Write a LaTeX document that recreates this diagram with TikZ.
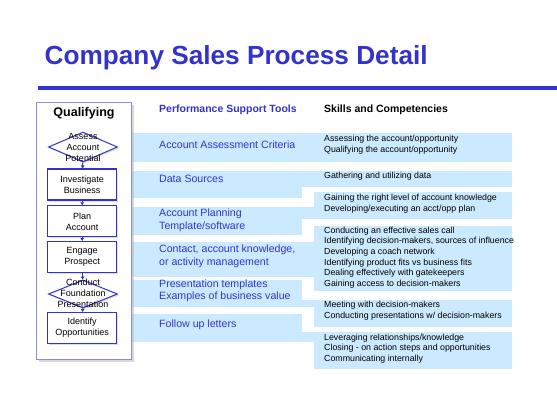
\documentclass[tikz,border=0pt]{standalone}
\usepackage{fontspec}
\setmainfont{Liberation Sans}
\usetikzlibrary{arrows.meta, positioning, shapes.geometric, shadows}
\definecolor{titleblue}{RGB}{51,51,204}
\definecolor{bandblue}{RGB}{204,234,255}
\definecolor{framepurple}{RGB}{140,140,220}

\begin{document}
\begin{tikzpicture}[x=1pt, y=-1pt,
  stepbox/.style={rectangle, draw=titleblue, line width=1.1pt, fill=white, minimum width=69pt, minimum height=31pt, inner sep=0pt, align=center, font=\fontsize{9}{11}\selectfont, drop shadow={shadow xshift=1.5pt, shadow yshift=-1.5pt, fill=gray!50}},
  decision/.style={diamond, draw=titleblue, line width=1pt, fill=white, minimum width=69pt, minimum height=30pt, inner sep=0pt, drop shadow={shadow xshift=1.5pt, shadow yshift=-1.5pt, fill=gray!50}},
  steptext/.style={align=center, inner sep=0pt, font=\fontsize{9}{10.8}\selectfont},
  flow/.style={draw=titleblue, line width=0.8pt, -{Triangle[length=3pt, width=3.5pt]}},
  tooltext/.style={anchor=west, align=left, inner sep=0pt, text=titleblue, font=\fontsize{10.6}{12.7}\selectfont},
  skilltext/.style={anchor=west, align=left, inner sep=0pt, font=\fontsize{8.8}{10.7}\selectfont},
  head/.style={anchor=west, inner sep=0pt, font=\bfseries\fontsize{10.5}{12}\selectfont}]
\useasboundingbox (0,0) rectangle (557,400);

% Title and rule
\node[anchor=base west, inner sep=0pt, text=titleblue, font=\bfseries\fontsize{26.2}{30}\selectfont] (title) at (44.5,64) {Company Sales Process Detail};
\draw[titleblue, line width=4.5pt] (38,88) -- (557,88);

% Bands behind the columns
\foreach \ta/\tb/\sa/\sb/\ba/\bb in {133/162/133/162/133/162, 171/198/171/187/171/187, 207/235/192/219/207/219, 242/277/226/291/242/277, 280/307/300/327/300/307, 314/342/332/369/332/342}{
  \fill[bandblue] (130,\ta) rectangle (302,\tb);
  \fill[bandblue] (314,\sa) rectangle (512,\sb);
  \fill[bandblue] (300,\ba) rectangle (316,\bb);
}

% Qualifying panel
\node[rectangle, draw=framepurple, line width=0.8pt, fill=white, minimum width=95pt, minimum height=257pt, drop shadow={shadow xshift=2.5pt, shadow yshift=-2.5pt, fill=gray!60}] (panel) at (83.5,230.5) {};
\node[inner sep=0pt, font=\bfseries\fontsize{12.5}{14}\selectfont] (qual) at (84,113) {Qualifying};

\node[decision] (d1) at (83,147) {};
\node[steptext] (d1text) at (83,147.5) {Assess\\Account\\Potential};
\node[stepbox] (b1) at (82.2,184.5) {Investigate\\Business};
\node[stepbox] (b2) at (82.2,221.3) {Plan\\Account};
\node[stepbox] (b3) at (82.2,257) {Engage\\Prospect};
\node[decision, minimum height=28pt] (d2) at (83,294) {};
\node[steptext] (d2text) at (83,293.5) {Conduct\\Foundation\\Presentation};
\node[stepbox] (b4) at (82.2,328) {Identify\\Opportunities};

\draw[flow] (d1) -- (b1);
\draw[flow] (b1) -- (b2);
\draw[flow] (b2) -- (b3);
\draw[flow] (b3) -- (d2);
\draw[flow] (d2) -- (b4);

% Column heads
\node[head, text=titleblue] (toolhead) at (159,110) {Performance Support Tools};
\node[head] (skillhead) at (324,110) {Skills and Competencies};

% Performance support tools
\node[tooltext] (tool1) at (159,145) {Account Assessment Criteria};
\node[tooltext] (tool2) at (159,179) {Data Sources};
\node[tooltext] (tool3) at (159,220.3) {Account Planning\\Template/software};
\node[tooltext] (tool4) at (159,256.2) {Contact, account knowledge,\\or activity management};
\node[tooltext] (tool5) at (159,290.8) {Presentation templates\\Examples of business value};
\node[tooltext] (tool6) at (159,324.3) {Follow up letters};

% Skills and competencies
\node[skilltext] (skill1) at (324,144.7) {Assessing the account/opportunity\\Qualifying the account/opportunity};
\node[skilltext] (skill2) at (324,176) {Gathering and utilizing data};
\node[skilltext] (skill3) at (324,203.7) {Gaining the right level of account knowledge\\Developing/executing an acct/opp plan};
\node[skilltext] (skill4) at (324,257.5) {Conducting an effective sales call\\Identifying decision-makers, sources of influence\\Developing a coach network\\Identifying product fits vs business fits\\Dealing effectively with gatekeepers\\Gaining access to decision-makers};
\node[skilltext] (skill5) at (324,310.9) {Meeting with decision-makers\\Conducting presentations w/ decision-makers};
\node[skilltext] (skill6) at (324,348.5) {Leveraging relationships/knowledge\\Closing - on action steps and opportunities\\Communicating internally};
\end{tikzpicture}
\end{document}
